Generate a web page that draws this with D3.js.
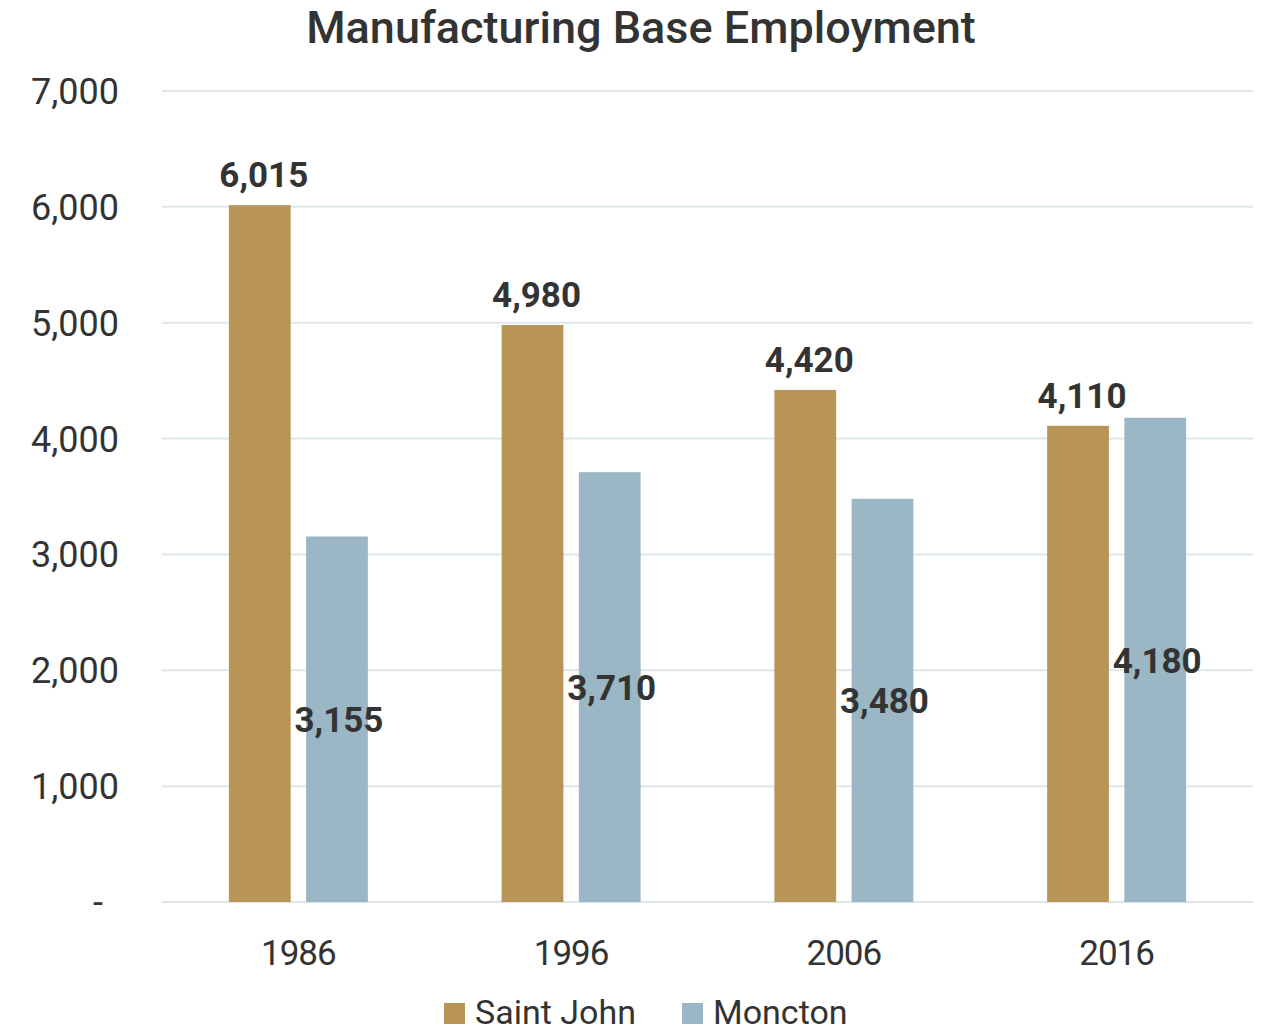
<!DOCTYPE html>
<html>
<head>
<meta charset="utf-8">
<script src="https://cdn.jsdelivr.net/npm/d3@7"></script>
<style>
  body { margin: 0; background: #fff; }
  text { font-family: Roboto, "Noto Sans", sans-serif; fill: #333; }
</style>
</head>
<body>
<script>
// chart data
const years     = ['1986', '1996', '2006', '2016'];
const series    = ['Saint John', 'Moncton'];
const saintJohn = [6015, 4980, 4420, 4110];
const moncton   = [3155, 3710, 3480, 4180];
const yTicks    = [0, 1000, 2000, 3000, 4000, 5000, 6000, 7000];

const colors = { 'Saint John': '#b89457', 'Moncton': '#9bb6c4' };

const width  = 1261;
const height = 1033;

const svg = d3.select('body')
  .append('svg')
    .attr('width', width)
    .attr('height', height);

// scales
const x0 = d3.scaleBand().domain(years).range([162, 1253]);
const x1 = d3.scaleBand().domain(series).range([0, 139]).paddingInner(0.2);
const y  = d3.scaleLinear().domain([0, 7000]).range([902, 91]);

const fmt = d3.format(',');

// title
svg.append('text')
  .attr('x', 641)
  .attr('y', 43)
  .attr('text-anchor', 'middle')
  .style('font-size', '45px')
  .style('font-weight', 500)
  .text('Manufacturing Base Employment');

// gridlines
svg.append('g')
  .selectAll('line')
  .data(yTicks)
  .join('line')
    .attr('x1', 162)
    .attr('x2', 1253)
    .attr('y1', (d) => y(d))
    .attr('y2', (d) => y(d))
    .attr('stroke', '#dde7ea')
    .attr('stroke-width', 2);

// y labels
svg.append('g')
  .selectAll('text')
  .data(yTicks)
  .join('text')
    .attr('x', (d) => d === 0 ? 103 : 119)
    .attr('y', (d) => y(d) + 13)
    .attr('text-anchor', 'end')
    .style('font-size', '36px')
    .text((d) => d === 0 ? '-' : fmt(d));

// x labels
svg.append('g')
  .selectAll('text')
  .data(years)
  .join('text')
    .attr('x', (d) => x0(d) + x0.bandwidth() / 2)
    .attr('y', 965)
    .attr('text-anchor', 'middle')
    .style('font-size', '35px')
    .style('letter-spacing', '-1px')
    .text((d) => d);

// bars
const rows = years.map((yr, i) => ({
  year: yr,
  values: [
    { key: 'Saint John', value: saintJohn[i] },
    { key: 'Moncton',    value: moncton[i] }
  ]
}));

const groups = svg.append('g')
  .selectAll('g')
  .data(rows)
  .join('g')
    .attr('transform', (d) => `translate(${x0(d.year) + (x0.bandwidth() - 139) / 2},0)`);

groups.selectAll('rect')
  .data((d) => d.values)
  .join('rect')
    .attr('x', (d) => x1(d.key))
    .attr('y', (d) => y(d.value))
    .attr('width', x1.bandwidth())
    .attr('height', (d) => y(0) - y(d.value))
    .attr('fill', (d) => colors[d.key]);

// value labels
groups.selectAll('text')
  .data((d) => d.values)
  .join('text')
    .attr('x', (d) => x1(d.key) + x1.bandwidth() / 2 + (d.key === 'Moncton' ? 2 : 4))
    .attr('y', (d) => d.key === 'Saint John'
      ? y(d.value) - 18
      : (y(d.value) + y(0)) / 2 + 13)
    .attr('text-anchor', 'middle')
    .style('font-size', '35px')
    .style('font-weight', 700)
    .text((d) => fmt(d.value));

// legend
const legend = svg.append('g')
  .selectAll('g')
  .data(series)
  .join('g')
    .attr('transform', (d, i) => `translate(${i === 0 ? 444 : 682},1003)`);

legend.append('rect')
  .attr('width', 21)
  .attr('height', 21)
  .attr('fill', (d) => colors[d]);

legend.append('text')
  .attr('x', 31)
  .attr('y', 21)
  .style('font-size', '34px')
  .text((d) => d);
</script>
</body>
</html>
